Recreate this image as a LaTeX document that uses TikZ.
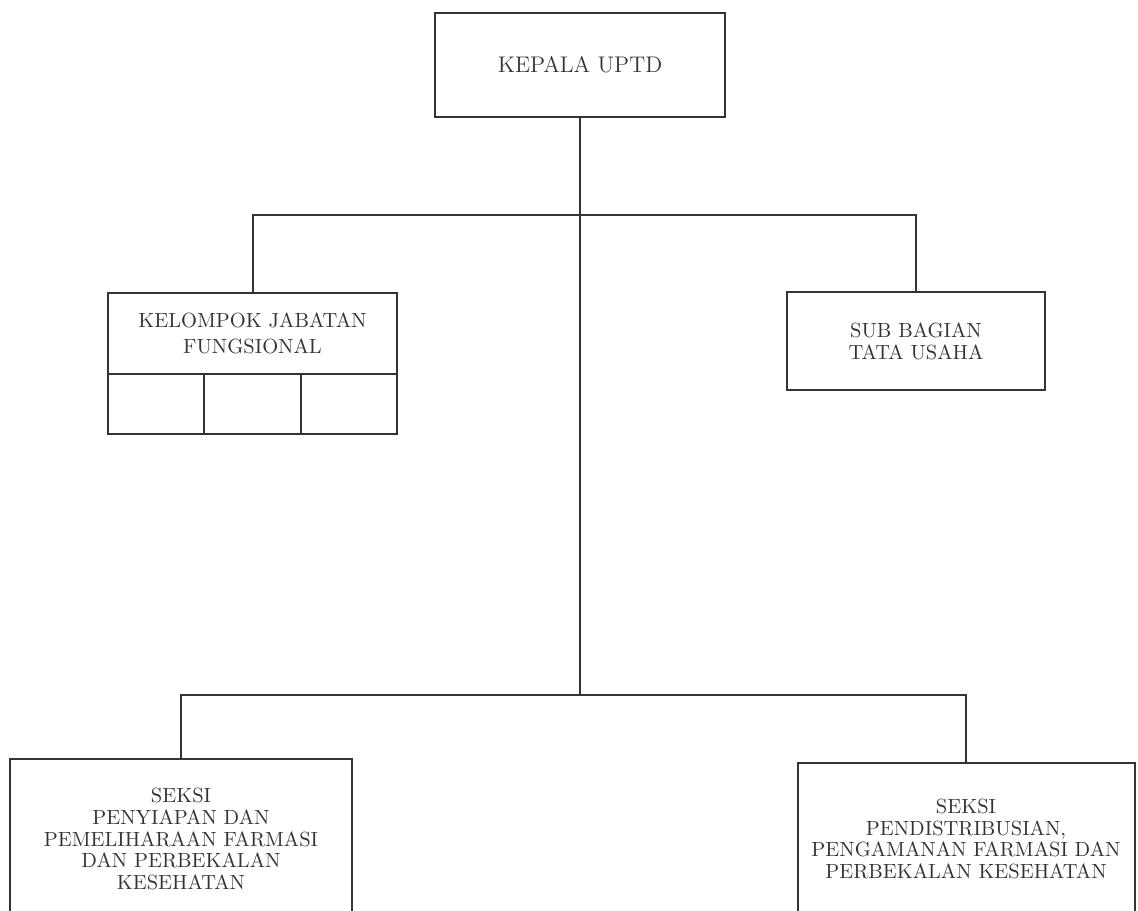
\documentclass[tikz,border=0pt]{standalone}
\usetikzlibrary{positioning}

\tikzset{
  unit/.style={draw, line width=1pt, outer sep=0pt, align=center,
    font=\fontsize{10.25}{10.9}\selectfont},
  cell/.style={draw, line width=1pt, outer sep=0pt, inner sep=0pt,
    minimum width=48.17pt, minimum height=30pt}
}

\begin{document}
\begin{tikzpicture}[x=0.5pt, y=-0.5pt, line width=1pt, color=black!80]
	\useasboundingbox (0,0) rectangle (1138,910);
	\clip (0,0) rectangle (1138,910);

	\node[unit, font=\fontsize{11.3}{13}\selectfont, minimum width=145pt, minimum height=52pt] (kepala) at (580,65) {KEPALA UPTD};

	\node[unit, font=\fontsize{10.25}{13.3}\selectfont, minimum width=144.5pt, minimum height=40.5pt] (jabatan) at (252.5,333.5) {KELOMPOK JABATAN\\FUNGSIONAL};
	\node[cell, anchor=north west] (cella) at (jabatan.south west) {};
	\node[cell, right=0pt of cella] (cellb) {};
	\node[cell, right=0pt of cellb] (cellc) {};

	\node[unit, minimum width=129pt, minimum height=49pt] (tatausaha) at (916,341) {SUB BAGIAN\\TATA USAHA};

	\node[unit, anchor=north, minimum width=171pt, minimum height=80pt] (penyiapan) at (181,759)
		{SEKSI\\PENYIAPAN DAN\\PEMELIHARAAN FARMASI\\DAN PERBEKALAN\\KESEHATAN};
	\node[unit, anchor=north, minimum width=168.5pt, minimum height=76pt] (distribusi) at (966,763)
		{SEKSI\\PENDISTRIBUSIAN,\\PENGAMANAN FARMASI DAN\\PERBEKALAN KESEHATAN};

	\coordinate (upbus) at (580,215);
	\coordinate (lowbus) at (580,695);

	\draw (kepala.south) -- (lowbus);
	\draw (jabatan.north) |- (upbus) -| (tatausaha.north);
	\draw (penyiapan.north) |- (lowbus) -| (distribusi.north);

\end{tikzpicture}
\end{document}
